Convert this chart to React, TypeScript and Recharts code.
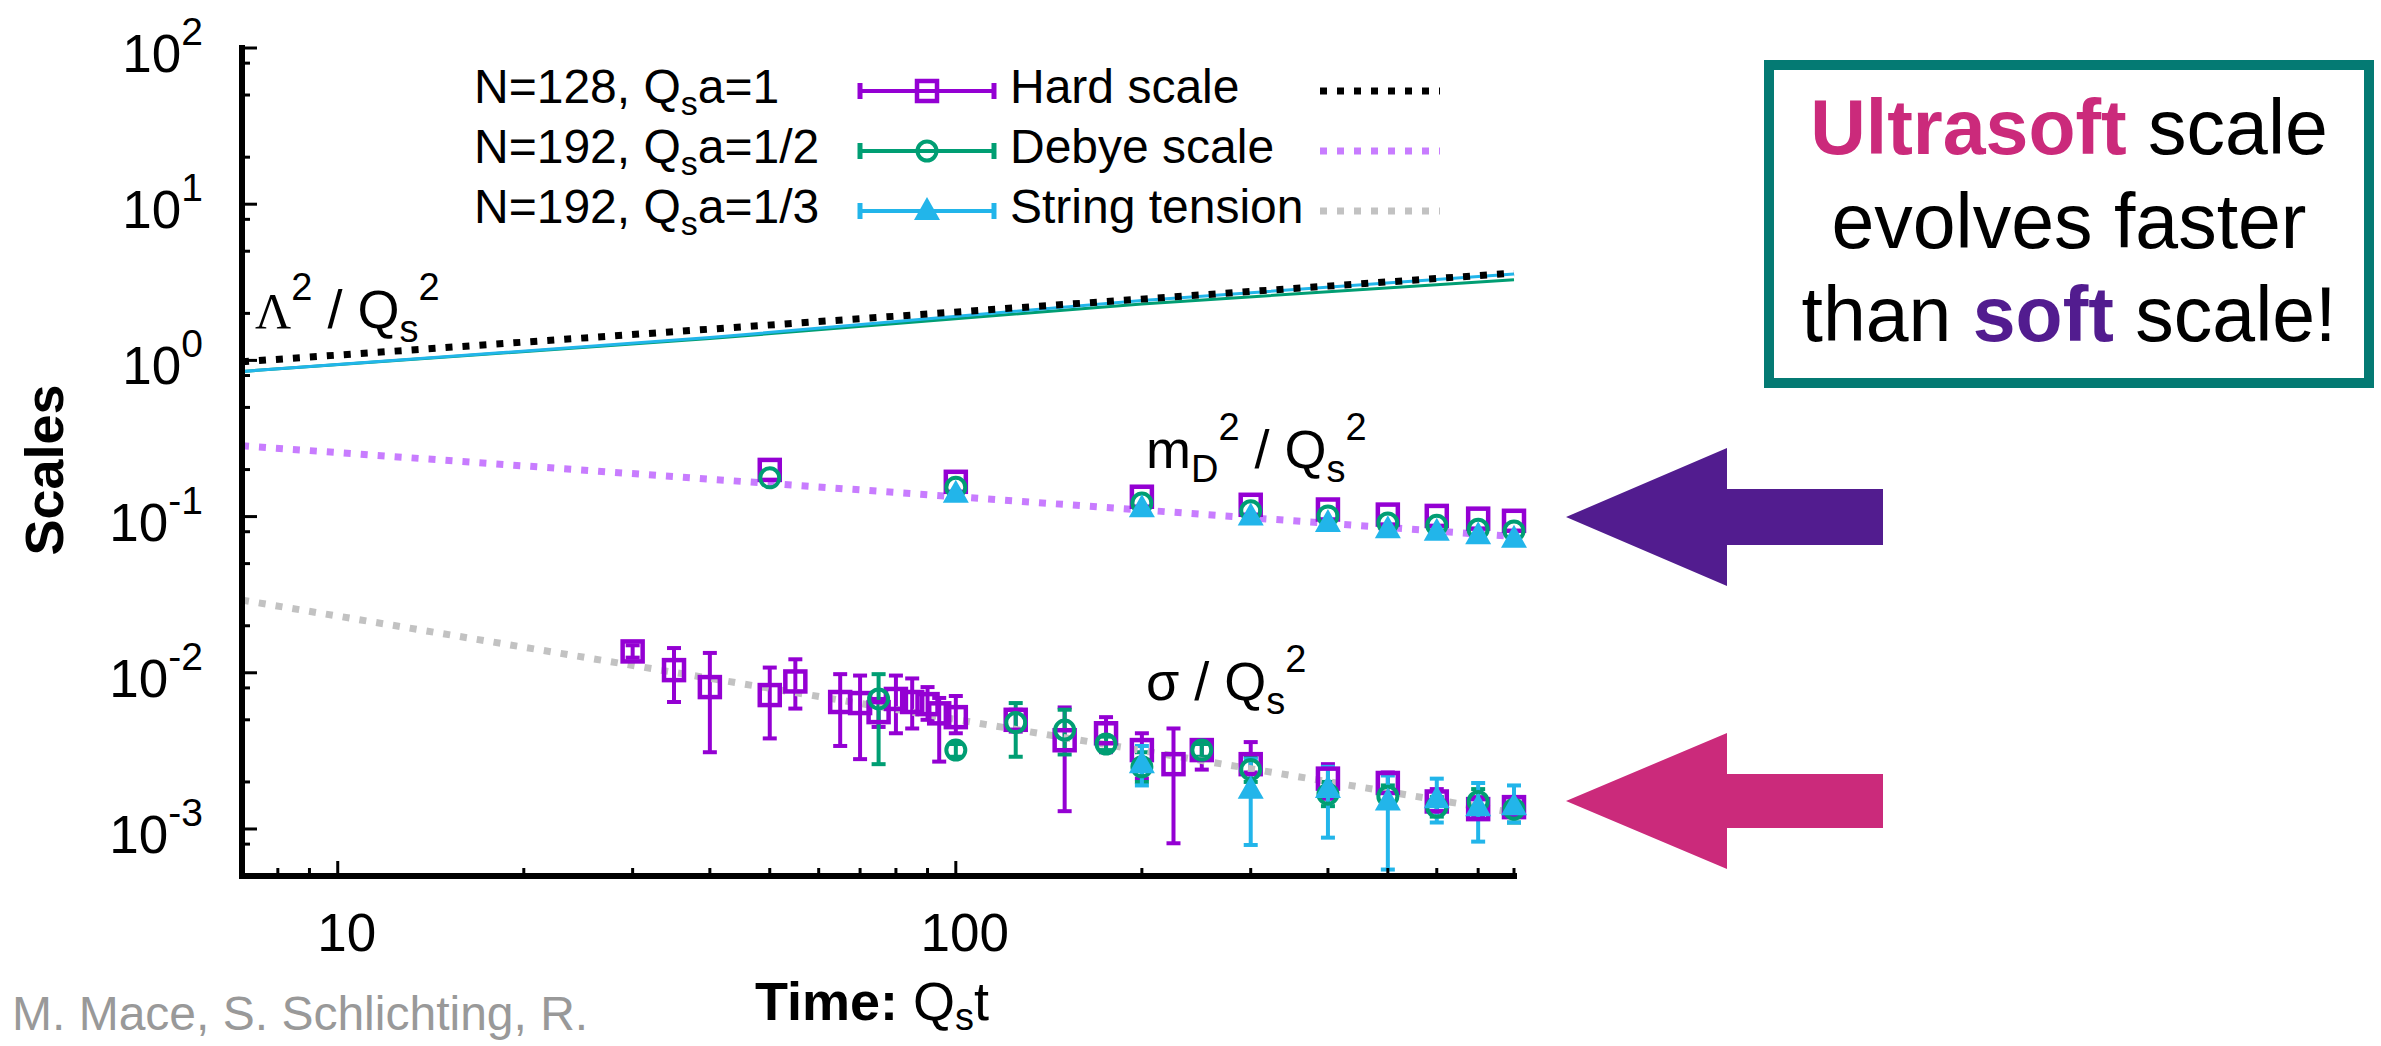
import React from 'react';
import { ComposedChart, Scatter, Line, XAxis, YAxis, ErrorBar } from 'recharts';

const W = 2381;
const H = 1046;
const PLOT = { left: 242, right: 1514, top: 48, bottom: 876 };
const FONT = '"Liberation Sans", Arial, Helvetica, sans-serif';

const PURPLE = '#9400d3';
const GREEN = '#009e73';
const CYAN = '#22b5ea';
const VIOLET = '#c87cff';
const GREY = '#c2c2c2';

// axis ticks
const xTicks = [8, 9, 10, 20, 30, 40, 50, 60, 70, 80, 90, 100, 200, 300, 400, 500, 600, 700, 800];
const xLabels = [10, 100];
const yTicks = [8e-4, 1e-3, 2e-3, 5e-3, 8e-3, 1e-2, 2e-2, 5e-2, 8e-2, 0.1, 0.2, 0.5, 0.8, 1, 2, 5, 8, 10, 20, 50, 80, 100];
const yLabels = [1e-3, 1e-2, 0.1, 1, 10, 100];

// Debye mass m_D^2/Q_s^2
const mdTimes = [50, 100, 200, 300, 400, 500, 600, 700, 800];
const mdHard = [0.199, 0.167, 0.134, 0.119, 0.111, 0.103, 0.101, 0.097, 0.094];
const mdHalf = [0.177, 0.154, 0.122, 0.109, 0.101, 0.091, 0.088, 0.083, 0.081];
const mdThirdTimes = [100, 200, 300, 400, 500, 600, 700, 800];
const mdThird = [0.14, 0.113, 0.1, 0.091, 0.083, 0.08, 0.076, 0.072];

// string tension sigma/Q_s^2 (value, lower, upper)
const sgHardTimes = [30, 35, 40, 50, 55, 65, 70, 75, 80, 85, 90, 94, 100, 125, 150, 175, 200, 225, 250, 300, 400, 500, 600, 700, 800];
const sgHard = [0.0137, 0.0104, 0.0081, 0.0072, 0.0088, 0.0065, 0.0064, 0.0056, 0.0068, 0.0065, 0.0063, 0.0055, 0.0052, 0.005, 0.0037, 0.0041, 0.0032, 0.0026, 0.0032, 0.0026, 0.0021, 0.00197, 0.0015, 0.00134, 0.00138];
const sgHardLo = [0.0125, 0.0065, 0.0031, 0.0038, 0.0059, 0.0034, 0.0028, 0.0045, 0.0041, 0.0044, 0.005, 0.0027, 0.0041, 0.0042, 0.0013, 0.0031, 0.0021, 0.00081, 0.0024, 0.0023, 0.00156, 0.0017, 0.0013, 0.0012, 0.0012];
const sgHardHi = [0.015, 0.0144, 0.0134, 0.0108, 0.0122, 0.0098, 0.0096, 0.0068, 0.0096, 0.0092, 0.0081, 0.0069, 0.0071, 0.0058, 0.006, 0.0052, 0.0041, 0.0044, 0.0037, 0.0036, 0.0026, 0.0023, 0.0018, 0.0016, 0.0016];

const sgHalfTimes = [75, 100, 125, 150, 175, 200, 250, 300, 400, 500, 600, 700, 800];
const sgHalf = [0.0068, 0.0032, 0.0048, 0.0043, 0.0035, 0.0025, 0.0032, 0.0024, 0.00167, 0.00162, 0.00138, 0.0015, 0.00134];
const sgHalfLo = [0.0026, 0.0029, 0.0029, 0.003, 0.0032, 0.002, 0.0029, 0.002, 0.0014, 0.0014, 0.0012, 0.0013, 0.0011];
const sgHalfHi = [0.0098, 0.0035, 0.0064, 0.0058, 0.0039, 0.0031, 0.0035, 0.0029, 0.002, 0.0019, 0.0016, 0.0018, 0.0016];

const sgThirdTimes = [200, 300, 400, 500, 600, 700, 800];
const sgThird = [0.0026, 0.00178, 0.0018, 0.0015, 0.00155, 0.00138, 0.0014];
const sgThirdLo = [0.0019, 0.00079, 0.00088, 0.00055, 0.0011, 0.00083, 0.0011];
const sgThirdHi = [0.0034, 0.0028, 0.0025, 0.0022, 0.0021, 0.00197, 0.0019];

// Lambda^2/Q_s^2 curves and fits
const lamTimes = [7, 40, 200, 800];
const lamHalf = [0.85, 1.38, 2.3, 3.28];
const lamThird = [0.85, 1.4, 2.42, 3.57];
const fitTimes = [7, 800];
const hardFit = [0.98, 3.62];
const debyeFit = [0.284, 0.0745];
const stringFit = [0.0292, 0.00127];

// legend
const runN = [128, 192, 192];
const runA = ['1', '1/2', '1/3'];
const runColors = [PURPLE, GREEN, CYAN];
const scaleNames = ['Hard scale', 'Debye scale', 'String tension'];
const scaleColors = ['#000000', VIOLET, GREY];

const pts = (t: number[], v: number[], lo?: number[], hi?: number[]) =>
  t.map((x, i) => ({
    t: x,
    v: v[i],
    err: lo && hi ? [v[i] - lo[i], hi[i] - v[i]] : undefined,
  }));

const square = (color: string) => (p: any) => (
  <rect x={p.cx - 10} y={p.cy - 10} width={20} height={20} fill="none" stroke={color} strokeWidth={4.5} />
);
const circle = (color: string) => (p: any) => (
  <circle cx={p.cx} cy={p.cy} r={9.5} fill="none" stroke={color} strokeWidth={4} />
);
const triangle = (color: string) => (p: any) => (
  <polygon points={`${p.cx},${p.cy - 14} ${p.cx - 13},${p.cy + 9} ${p.cx + 13},${p.cy + 9}`} fill={color} />
);

const isIn = (arr: number[], v: number) => arr.some((a) => Math.abs(a - v) / a < 1e-9);

const XTickBottom = (props: any) => {
  const { x, payload } = props;
  const major = isIn(xLabels, payload.value);
  return (
    <g>
      <line x1={x} x2={x} y1={PLOT.bottom} y2={PLOT.bottom - (major ? 15 : 8)} stroke="#000" strokeWidth={3} />
      {major && (
        <text x={x + 9} y={951} textAnchor="middle" fontSize={53} fontFamily={FONT} fill="#000">
          {payload.value}
        </text>
      )}
    </g>
  );
};

const XTickTop = (props: any) => {
  const { x, payload } = props;
  const major = isIn(xLabels, payload.value);
  return <line x1={x} x2={x} y1={PLOT.top} y2={PLOT.top + (major ? 15 : 8)} stroke="#000" strokeWidth={3} />;
};

const YTickLeft = (props: any) => {
  const { y, payload } = props;
  const major = isIn(yLabels, payload.value);
  return (
    <g>
      <line x1={PLOT.left} x2={PLOT.left + (major ? 15 : 8)} y1={y} y2={y} stroke="#000" strokeWidth={3} />
      {major && (
        <text x={203} y={y + 24} textAnchor="end" fontSize={53} fontFamily={FONT} fill="#000">
          10
          <tspan fontSize={39} dy={-27}>
            {Math.round(Math.log10(payload.value))}
          </tspan>
        </text>
      )}
    </g>
  );
};

const YTickRight = (props: any) => {
  const { y, payload } = props;
  const major = isIn(yLabels, payload.value);
  return <line x1={PLOT.right} x2={PLOT.right - (major ? 15 : 8)} y1={y} y2={y} stroke="#000" strokeWidth={3} />;
};

const frameLine = { stroke: '#000', strokeWidth: 6, strokeLinecap: 'square' as const };

const Overlay = () => {
  const rowY = [91, 151, 211];
  return (
    <svg width={W} height={H} style={{ position: 'absolute', left: 0, top: 0, pointerEvents: 'none' }} fontFamily={FONT}>
      {/* legend */}
      {rowY.map((y, i) => (
        <g key={i}>
          <text x={474} y={y + 12} fontSize={48} fill="#000">
            N={runN[i]}, Q
            <tspan fontSize={34} dy={12}>s</tspan>
            <tspan dy={-12}>a={runA[i]}</tspan>
          </text>
          <line x1={860} x2={994} y1={y} y2={y} stroke={runColors[i]} strokeWidth={4} />
          <line x1={860} x2={860} y1={y - 8} y2={y + 8} stroke={runColors[i]} strokeWidth={5} />
          <line x1={994} x2={994} y1={y - 8} y2={y + 8} stroke={runColors[i]} strokeWidth={5} />
          {i === 0 && square(PURPLE)({ cx: 927, cy: y })}
          {i === 1 && circle(GREEN)({ cx: 927, cy: y })}
          {i === 2 && triangle(CYAN)({ cx: 927, cy: y })}
          <text x={1010} y={y + 12} fontSize={48} fill="#000">
            {scaleNames[i]}
          </text>
          <line x1={1320} x2={1440} y1={y} y2={y} stroke={scaleColors[i]} strokeWidth={7} strokeDasharray="7 10" />
        </g>
      ))}

      {/* curve labels */}
      <text x={255} y={328} fontSize={54} fill="#000">
        <tspan fontFamily='"Liberation Serif", serif' fontSize={50}>Λ</tspan>
        <tspan fontSize={38} dy={-28}>2</tspan>
        <tspan dy={28}> / Q</tspan>
        <tspan fontSize={38} dy={14}>s</tspan>
        <tspan fontSize={38} dy={-42}>2</tspan>
      </text>
      <text x={1146} y={468} fontSize={54} fill="#000">
        m<tspan fontSize={38} dy={14}>D</tspan>
        <tspan fontSize={38} dy={-42}>2</tspan>
        <tspan dy={28}> / Q</tspan>
        <tspan fontSize={38} dy={14}>s</tspan>
        <tspan fontSize={38} dy={-42}>2</tspan>
      </text>
      <text x={1146} y={700} fontSize={54} fill="#000">
        σ / Q<tspan fontSize={38} dy={14}>s</tspan>
        <tspan fontSize={38} dy={-42}>2</tspan>
      </text>

      {/* axis titles */}
      <text transform="translate(63,470) rotate(-90)" textAnchor="middle" fontSize={54} fontWeight="bold" fill="#000">
        Scales
      </text>
      <text x={755} y={1020} fontSize={54} fill="#000">
        <tspan fontWeight="bold">Time: </tspan>Q<tspan fontSize={38} dy={10}>s</tspan>
        <tspan dy={-10}>t</tspan>
      </text>
      <text x={12} y={1030} fontSize={48} fill="#999999">
        M. Mace, S. Schlichting, R.
      </text>

      {/* annotation box */}
      <rect x={1769} y={65} width={600} height={318} fill="#fff" stroke="#047a73" strokeWidth={10} />
      <text x={2069} y={154} textAnchor="middle" fontSize={77} fill="#000">
        <tspan fontWeight="bold" fill="#cb2a7b">Ultrasoft</tspan> scale
      </text>
      <text x={2069} y={248} textAnchor="middle" fontSize={77} fill="#000">
        evolves faster
      </text>
      <text x={2069} y={341} textAnchor="middle" fontSize={77} fill="#000">
        than <tspan fontWeight="bold" fill="#521c8f">soft</tspan> scale!
      </text>

      {/* arrows */}
      <polygon points="1566,517 1727,448 1727,489 1883,489 1883,545 1727,545 1727,586" fill="#521c8f" />
      <polygon points="1566,801 1727,733 1727,774 1883,774 1883,828 1727,828 1727,869" fill="#cb2a7b" />
    </svg>
  );
};

export default function App() {
  return (
    <div style={{ position: 'absolute', left: 0, top: 0, width: W, height: H, background: '#fff' }}>
      <ComposedChart width={W} height={H} margin={{ top: PLOT.top, right: W - PLOT.right, bottom: 0, left: 0 }}>
        <XAxis
          type="number"
          dataKey="t"
          scale="log"
          domain={[7, 800]}
          ticks={xTicks}
          interval={0}
          height={H - PLOT.bottom}
          axisLine={frameLine}
          tickLine={false}
          tick={XTickBottom}
        />
        <XAxis
          xAxisId="top"
          orientation="top"
          type="number"
          dataKey="t"
          scale="log"
          domain={[7, 800]}
          allowDataOverflow
          ticks={xTicks}
          interval={0}
          height={0}
          axisLine={frameLine}
          tickLine={false}
          tick={XTickTop}
        />
        <YAxis
          type="number"
          dataKey="v"
          scale="log"
          domain={[5e-4, 100]}
          ticks={yTicks}
          interval={0}
          width={PLOT.left}
          axisLine={frameLine}
          tickLine={false}
          tick={YTickLeft}
        />
        <YAxis
          yAxisId="right"
          orientation="right"
          type="number"
          dataKey="v"
          scale="log"
          domain={[5e-4, 100]}
          allowDataOverflow
          ticks={yTicks}
          interval={0}
          width={0}
          axisLine={frameLine}
          tickLine={false}
          tick={YTickRight}
        />

        <Scatter data={pts(mdTimes, mdHard)} shape={square(PURPLE)} isAnimationActive={false} />
        <Scatter data={pts(sgHardTimes, sgHard, sgHardLo, sgHardHi)} shape={square(PURPLE)} isAnimationActive={false}>
          <ErrorBar dataKey="err" direction="y" width={7} stroke={PURPLE} strokeWidth={4} isAnimationActive={false} />
        </Scatter>
        <Scatter data={pts(mdTimes, mdHalf)} shape={circle(GREEN)} isAnimationActive={false} />
        <Scatter data={pts(sgHalfTimes, sgHalf, sgHalfLo, sgHalfHi)} shape={circle(GREEN)} isAnimationActive={false}>
          <ErrorBar dataKey="err" direction="y" width={7} stroke={GREEN} strokeWidth={4} isAnimationActive={false} />
        </Scatter>
        <Scatter data={pts(mdThirdTimes, mdThird)} shape={triangle(CYAN)} isAnimationActive={false} />
        <Scatter data={pts(sgThirdTimes, sgThird, sgThirdLo, sgThirdHi)} shape={triangle(CYAN)} isAnimationActive={false}>
          <ErrorBar dataKey="err" direction="y" width={7} stroke={CYAN} strokeWidth={4} isAnimationActive={false} />
        </Scatter>

        <Line data={pts(lamTimes, lamHalf)} dataKey="v" stroke={GREEN} strokeWidth={3} dot={false} isAnimationActive={false} />
        <Line data={pts(lamTimes, lamThird)} dataKey="v" stroke={CYAN} strokeWidth={3} dot={false} isAnimationActive={false} />
        <Line data={pts(fitTimes, hardFit)} dataKey="v" stroke="#000" strokeWidth={7} strokeDasharray="7 10" dot={false} isAnimationActive={false} />
        <Line data={pts(fitTimes, debyeFit)} dataKey="v" stroke={VIOLET} strokeWidth={7} strokeDasharray="7 10" dot={false} isAnimationActive={false} />
        <Line data={pts(fitTimes, stringFit)} dataKey="v" stroke={GREY} strokeWidth={7} strokeDasharray="7 10" dot={false} isAnimationActive={false} />
      </ComposedChart>
      <Overlay />
    </div>
  );
}
